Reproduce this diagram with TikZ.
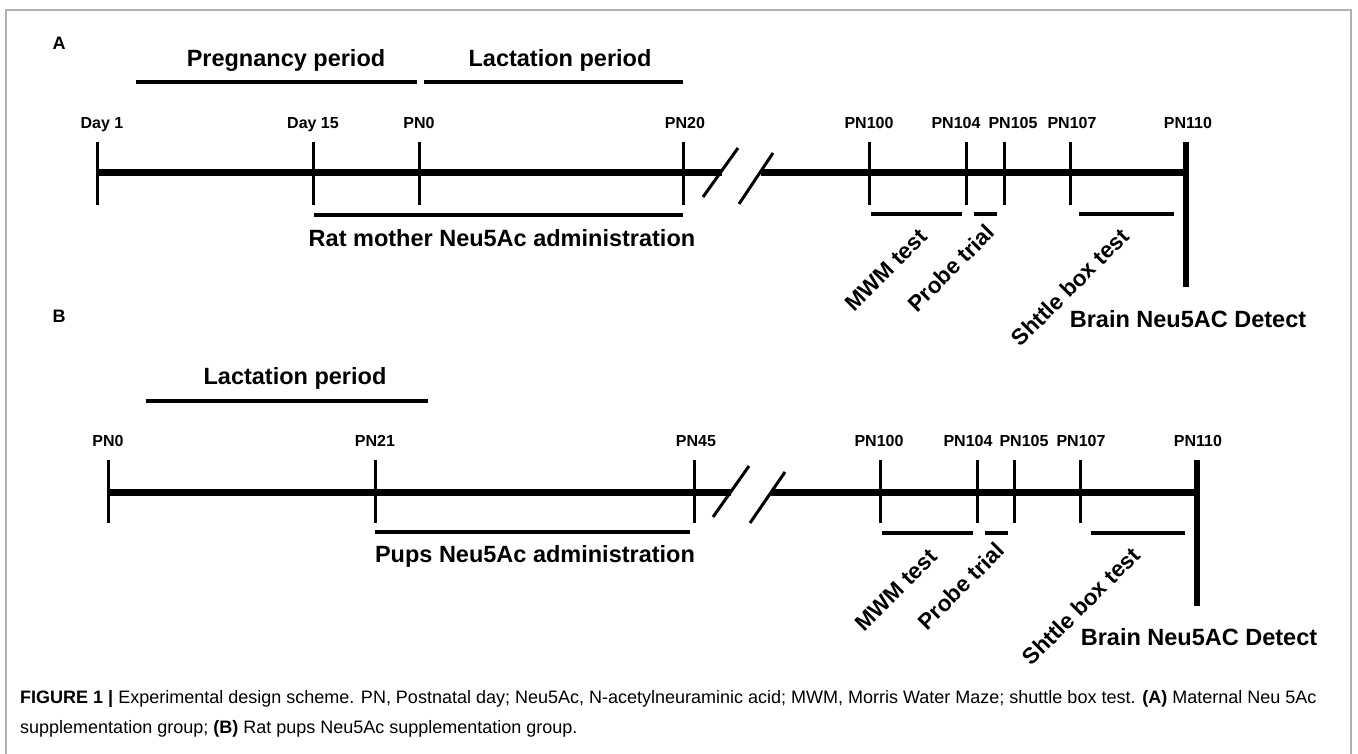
\documentclass[tikz,border=0pt]{standalone}
\usepackage{fontspec}
\setmainfont{Liberation Sans}
\usetikzlibrary{positioning}

\tikzset{
  axis/.style={line width=7pt},
  tick/.style={line width=3pt},
  endtick/.style={line width=6.5pt},
  bar/.style={line width=4pt},
  brk/.style={line width=3pt},
  daylab/.style={font=\bfseries\fontsize{16}{18}\selectfont, inner sep=0pt, anchor=base},
  period/.style={font=\bfseries\fontsize{23.5}{26}\selectfont, inner sep=0pt},
  testlab/.style={font=\bfseries\fontsize{22.5}{24}\selectfont, inner sep=0pt, rotate=45},
  panel/.style={font=\bfseries\fontsize{18}{20}\selectfont, inner sep=0pt}
}

\begin{document}
\begin{tikzpicture}[x=1pt,y=-1pt]
\useasboundingbox (0,0) rectangle (1358,754);
\draw[gray!60, line width=1.5pt] (6,754) -- (6,10) -- (1351,10) -- (1351,754);

% ---- panel A: maternal group
\node[panel] (A) at (59,43) {A};
\foreach \x/\lx/\lab [count=\i] in {97/102/Day 1, 313/313/Day 15, 419/419/PN0, 683/685/PN20,
    869/869/PN100, 966/956/PN104, 1004/1013/PN105, 1070/1072/PN107}{
  \coordinate (a\i) at (\x,173);
  \coordinate (a\i t) at (\x,142);
  \coordinate (a\i b) at (\x,205);
  \draw[tick] (a\i t) -- (a\i b);
  \node[daylab] (la\i) at (\lx,129) {\lab};
}
\coordinate (a9) at (1186,173);
\coordinate (a9t) at (1186,142);
\coordinate (a9b) at (1186,287);
\node[daylab] (la9) at (1188,129) {PN110};
\draw[endtick] (a9t) -- (a9b);
% broken axis
\coordinate (ka1) at (703,197); \coordinate (ka2) at (738,148);
\coordinate (ka3) at (739,204); \coordinate (ka4) at (773,153);
\coordinate (ea1) at (722,173); \coordinate (ea2) at (761,173);
\draw[axis] (a1) -- (ea1);
\draw[axis] (ea2) -- (a9);
\draw[brk] (ka1) -- (ka2);
\draw[brk] (ka3) -- (ka4);
% periods
\coordinate (pgL) at (136,82); \coordinate (pgR) at (417,82);
\coordinate (lcL) at (424,82); \coordinate (lcR) at (683,82);
\draw[bar] (pgL) -- (pgR);
\draw[bar] (lcL) -- (lcR);
\node[period] (preg) at (286,60) {Pregnancy period};
\node[period] (lactA) at (560,60) {Lactation period};
% administration and tests
\draw[bar] (314,215) coordinate (adL) -- (683,215) coordinate (adR);
\node[period] (admA) at (502,238) {Rat mother Neu5Ac administration};
\draw[bar] (871,214) coordinate (mwL) -- (962,214) coordinate (mwR);
\draw[bar] (974,214) coordinate (prL) -- (997,214) coordinate (prR);
\draw[bar] (1079,214) coordinate (shL) -- (1174,214) coordinate (shR);
\node[testlab] (mwmA) at (886,270) {MWM test};
\node[testlab] (probeA) at (951,268) {Probe trial};
\node[testlab] (shtA) at (1070,287) {Shttle box test};
\node[period] (brainA) at (1188,319) {Brain Neu5AC Detect};

% ---- panel B: pups group
\node[panel] (B) at (59,316) {B};
\foreach \x/\lx/\lab [count=\i] in {108/108/PN0, 375/375/PN21, 694/696/PN45,
    880/879/PN100, 977/968/PN104, 1014/1024/PN105, 1080/1081/PN107}{
  \coordinate (b\i) at (\x,492);
  \coordinate (b\i t) at (\x,460);
  \coordinate (b\i b) at (\x,523);
  \draw[tick] (b\i t) -- (b\i b);
  \node[daylab] (lb\i) at (\lx,446) {\lab};
}
\coordinate (b8) at (1197,492);
\coordinate (b8t) at (1197,460);
\coordinate (b8b) at (1197,606);
\node[daylab] (lb8) at (1198,446) {PN110};
\draw[endtick] (b8t) -- (b8b);
% broken axis
\coordinate (kb1) at (713,517); \coordinate (kb2) at (749,466);
\coordinate (kb3) at (750,523); \coordinate (kb4) at (785,472);
\coordinate (eb1) at (731,492); \coordinate (eb2) at (771,492);
\draw[axis] (b1) -- (eb1);
\draw[axis] (eb2) -- (b8);
\draw[brk] (kb1) -- (kb2);
\draw[brk] (kb3) -- (kb4);
% period
\draw[bar] (146,401) coordinate (lbL) -- (428,401) coordinate (lbR);
\node[period] (lactB) at (295,378) {Lactation period};
% administration and tests
\draw[bar] (375,532) coordinate (pdL) -- (690,532) coordinate (pdR);
\node[period] (admB) at (535,556) {Pups Neu5Ac administration};
\draw[bar] (882,533) coordinate (mbL) -- (973,533) coordinate (mbR);
\draw[bar] (985,533) coordinate (pbL) -- (1008,533) coordinate (pbR);
\draw[bar] (1091,533) coordinate (sbL) -- (1185,533) coordinate (sbR);
\node[testlab] (mwmB) at (896,590) {MWM test};
\node[testlab] (probeB) at (961,586) {Probe trial};
\node[testlab] (shtB) at (1081,606) {Shttle box test};
\node[period] (brainB) at (1199,637) {Brain Neu5AC Detect};

% ---- caption
\node[anchor=base west, inner sep=0pt, align=left, font=\fontsize{18}{30}\selectfont] (cap) at (20,733)
  {\textbf{FIGURE 1 |} Experimental design scheme. PN, Postnatal day; Neu5Ac, N-acetylneuraminic acid; MWM, Morris Water Maze; shuttle box test. \textbf{(A)} Maternal Neu 5Ac\\
   supplementation group; \textbf{(B)} Rat pups Neu5Ac supplementation group.};
\end{tikzpicture}
\end{document}
